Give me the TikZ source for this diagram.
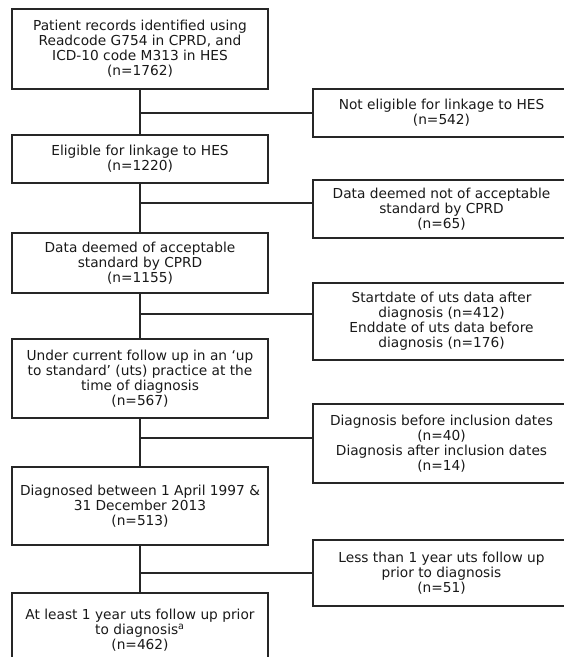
\documentclass[tikz,border=0pt]{standalone}
\usepackage{fontspec}
\setmainfont{DejaVu Sans}
\usetikzlibrary{positioning}
\tikzset{stage/.style={shape=rectangle, draw=black!85, line width=1pt, align=center,
    inner sep=0pt, minimum width=192pt, font=\fontsize{10.3}{11.2}\selectfont, text=black!90}}
\tikzset{excl/.style={stage, minimum width=192.75pt}}
\tikzset{link/.style={draw=black!85, line width=1.1pt}}

\begin{document}
\begin{tikzpicture}[x=0.75pt, y=-0.75pt]
  \useasboundingbox (0,0) rectangle (564,657);
  \clip (0,0) rectangle (564,657);

  % main flow
  \node[stage, minimum height=60pt] (rec) at (140,49)
    {Patient records identified  using\\ Readcode G754 in  CPRD, and\\ ICD-10 code M313 in  HES\\ (n=1762)};
  \node[stage, minimum height=36pt] (elig) at (140,159)
    {Eligible  for linkage  to HES\\ (n=1220)};
  \node[stage, minimum height=45pt] (accept) at (140,263)
    {Data deemed of acceptable\\ standard by CPRD\\ (n=1155)};
  \node[stage, minimum height=59.25pt] (uts) at (140,378.5)
    {Under current follow up in an ‘up\\ to standard’ (uts) practice at the\\ time of diagnosis\\ (n=567)};
  \node[stage, minimum height=58.5pt] (diag) at (140,506)
    {Diagnosed between 1 April  1997 \&\\ 31 December 2013\\ (n=513)};
  \node[stage, minimum height=55.5pt] (year) at (140,630)
    {At least 1 year uts follow up prior\\ to diagnosis\textsuperscript{a}\\ (n=462)};

  % exclusions
  \node[excl, minimum height=36pt] (noelig) at (441.5,113)
    {Not eligible  for linkage  to HES\\ (n=542)};
  \node[excl, minimum height=43.5pt] (noaccept) at (441.5,209)
    {Data deemed not of acceptable\\ standard by CPRD\\ (n=65)};
  \node[excl, minimum height=57.75pt] (dates) at (441.5,321.5)
    {Startdate of uts data after\\ diagnosis (n=412)\\ Enddate of uts data before\\ diagnosis (n=176)};
  \node[excl, minimum height=59.25pt] (incl) at (441.5,443.5)
    {Diagnosis  before inclusion  dates\\ (n=40)\\ Diagnosis  after inclusion  dates\\ (n=14)};
  \node[excl, minimum height=49.5pt] (short) at (441.5,573)
    {Less than  1 year uts follow up\\ prior to diagnosis\\ (n=51)};

  \coordinate (j1) at (140,113);
  \coordinate (j2) at (140,203);
  \coordinate (j3) at (140,314);
  \coordinate (j4) at (140,438);
  \coordinate (j5) at (140,573);

  \path[link] (rec) -- (elig);
  \path[link] (elig) -- (accept);
  \path[link] (accept) -- (uts);
  \path[link] (uts) -- (diag);
  \path[link] (diag) -- (year);

  \path[link] (j1) -- (j1 -| noelig.west);
  \path[link] (j2) -- (j2 -| noaccept.west);
  \path[link] (j3) -- (j3 -| dates.west);
  \path[link] (j4) -- (j4 -| incl.west);
  \path[link] (j5) -- (j5 -| short.west);
\end{tikzpicture}
\end{document}
